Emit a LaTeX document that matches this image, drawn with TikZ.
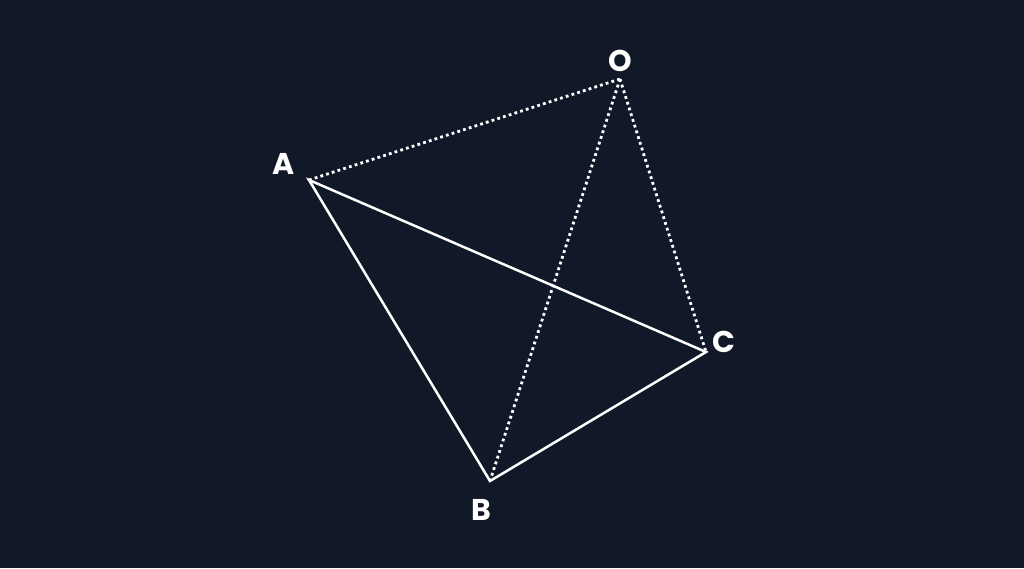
\documentclass[tikz,border=0pt]{standalone}
\usepackage{fontspec}
\setmainfont{Poppins}
\definecolor{bg}{HTML}{111827}
\tikzset{
  edge/.style={white, line width=2.5pt, line join=miter},
  hidden/.style={white, line width=2.8pt, dash pattern=on 2.8pt off 3.2pt},
  lbl/.style={text=white, font=\fontsize{30}{32}\selectfont\bfseries, inner sep=0pt}
}
\begin{document}
\begin{tikzpicture}[x=1pt,y=-1pt]
\fill[bg] (0,0) rectangle (1024,568);
\useasboundingbox (0,0) rectangle (1024,568);
\coordinate (A) at (309,180);
\coordinate (O) at (620,79);
\coordinate (B) at (490,481);
\coordinate (C) at (706,352);
\draw[hidden] (A) -- (O);
\draw[hidden] (O) -- (B);
\draw[hidden] (O) -- (C);
\draw[edge] (A) -- (B) -- (C) -- cycle;
\node[lbl] (lA) at (284,164) {A};
\node[lbl] (lO) at (620,61) {O};
\node[lbl] (lB) at (481,510) {B};
\node[lbl] (lC) at (724,342) {C};
\end{tikzpicture}
\end{document}
